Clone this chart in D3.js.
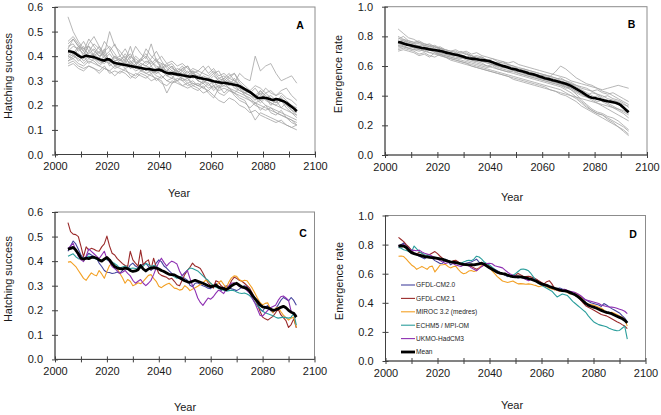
<!DOCTYPE html>
<html><head><meta charset="utf-8">
<script src="https://cdn.jsdelivr.net/npm/d3@7"></script>
<style>body{margin:0;background:#fff}svg{display:block;font-family:"Liberation Sans",Arial,sans-serif}</style>
</head><body><svg id="c" width="661" height="415"></svg>
<script>
const years = d3.range(2005, 2094);
const greyYears = d3.range(2005, 2094, 2);
const xTicks = d3.range(2000, 2101, 10);
const hatchTicks = [0, 0.1, 0.2, 0.3, 0.4, 0.5, 0.6];
const emergTicks = [0, 0.2, 0.4, 0.6, 0.8, 1.0];
const modelNames = ["GFDL-CM2.0", "GFDL-CM2.1", "MIROC 3.2 (medres)", "ECHM5 / MPI-OM", "UKMO-HadCM3"];
const meanName = "Mean";

// Panel A: all runs (grey) and mean
const hatchRuns = [
[.56,.50,.46,.43,.44,.42,.40,.41,.38,.37,.36,.37,.35,.36,.34,.35,.33,.34,.32,.30,.31,.30,.32,.31,.29,.28,.30,.29,.27,.28,.29,.27,.26,.25,.24,.22,.21,.20,.19,.18,.17,.16,.15,.14,.13],
[.46,.48,.45,.42,.47,.44,.41,.46,.43,.39,.40,.38,.44,.37,.39,.41,.38,.36,.35,.37,.35,.34,.33,.32,.34,.33,.31,.30,.32,.30,.29,.31,.33,.30,.28,.26,.24,.22,.23,.21,.20,.22,.19,.17,.16],
[.43,.47,.44,.40,.45,.48,.44,.41,.50,.44,.42,.39,.37,.40,.38,.43,.40,.38,.37,.36,.34,.33,.35,.36,.32,.30,.29,.31,.30,.29,.31,.33,.30,.28,.25,.24,.23,.25,.22,.21,.20,.19,.18,.17,.15],
[.40,.42,.41,.38,.40,.39,.37,.38,.39,.36,.37,.35,.36,.34,.35,.33,.34,.32,.31,.33,.32,.30,.31,.29,.30,.28,.29,.27,.28,.26,.27,.26,.25,.24,.23,.22,.20,.19,.18,.19,.17,.16,.15,.13,.12],
[.38,.39,.37,.36,.38,.37,.36,.35,.34,.36,.35,.34,.33,.32,.34,.33,.32,.31,.30,.25,.29,.30,.28,.29,.27,.26,.28,.25,.23,.27,.28,.27,.25,.23,.22,.18,.14,.17,.16,.15,.14,.13,.12,.11,.10],
[.37,.38,.36,.35,.36,.35,.34,.36,.33,.34,.33,.35,.32,.31,.33,.32,.30,.31,.29,.28,.30,.29,.28,.27,.28,.27,.25,.26,.24,.22,.21,.23,.22,.20,.19,.17,.18,.16,.15,.14,.13,.14,.12,.11,.12],
[.42,.44,.43,.46,.42,.45,.43,.40,.42,.45,.40,.43,.39,.44,.41,.39,.45,.38,.40,.37,.38,.36,.37,.35,.33,.34,.33,.32,.34,.31,.32,.30,.29,.33,.31,.30,.40,.34,.36,.37,.33,.30,.31,.32,.29],
[.39,.41,.38,.40,.37,.39,.38,.37,.39,.36,.37,.36,.38,.35,.37,.36,.35,.34,.37,.33,.34,.33,.32,.34,.31,.32,.31,.30,.29,.31,.30,.29,.28,.27,.26,.25,.24,.26,.23,.24,.22,.23,.21,.20,.19],
[.36,.37,.35,.34,.36,.35,.33,.35,.34,.32,.34,.33,.31,.33,.32,.31,.33,.30,.32,.30,.29,.31,.30,.28,.29,.28,.27,.26,.28,.25,.24,.26,.25,.27,.24,.23,.21,.22,.20,.19,.18,.17,.16,.15,.14],
[.44,.45,.42,.44,.40,.41,.44,.40,.38,.40,.37,.39,.41,.37,.38,.40,.36,.38,.35,.36,.37,.34,.36,.33,.35,.34,.36,.33,.35,.32,.33,.31,.30,.28,.27,.26,.28,.27,.25,.26,.24,.25,.23,.22,.20],
[.41,.40,.43,.41,.44,.40,.42,.39,.41,.38,.39,.37,.40,.38,.36,.38,.37,.39,.35,.34,.36,.33,.35,.32,.34,.30,.32,.31,.33,.30,.31,.29,.28,.26,.25,.24,.22,.26,.24,.22,.21,.23,.20,.18,.17],
[.45,.47,.44,.43,.41,.43,.40,.42,.44,.41,.38,.41,.38,.36,.39,.37,.39,.42,.38,.35,.33,.35,.34,.36,.33,.31,.34,.36,.33,.34,.30,.32,.33,.29,.27,.25,.23,.21,.23,.20,.22,.19,.21,.18,.16],
[.38,.40,.39,.37,.39,.38,.36,.38,.37,.35,.36,.38,.35,.37,.34,.35,.34,.33,.35,.32,.33,.32,.31,.30,.32,.30,.29,.31,.28,.29,.28,.30,.27,.26,.25,.26,.24,.22,.25,.23,.21,.24,.22,.20,.18],
[.43,.41,.44,.42,.39,.41,.39,.43,.37,.40,.38,.40,.36,.39,.37,.36,.38,.35,.36,.34,.36,.32,.34,.31,.33,.32,.30,.28,.30,.27,.29,.28,.31,.28,.26,.25,.27,.24,.27,.25,.24,.26,.27,.24,.22],
[.40,.39,.41,.39,.42,.40,.38,.40,.36,.38,.39,.36,.37,.35,.36,.34,.36,.33,.34,.32,.31,.34,.30,.31,.28,.29,.27,.29,.26,.28,.25,.27,.24,.22,.21,.19,.21,.18,.20,.17,.16,.18,.15,.14,.12]
];
const hatchMeanAll = [
.420,.419,.416,.410,.402,.396,.398,.402,.400,.398,
.396,.392,.388,.384,.382,.388,.386,.378,.372,.370,
.368,.366,.364,.362,.360,.358,.356,.354,.352,.350,
.348,.348,.346,.344,.344,.346,.342,.336,.332,.330,
.330,.328,.326,.325,.322,.320,.318,.316,.318,.316,
.312,.310,.308,.306,.304,.301,.298,.296,.294,.292,
.292,.290,.288,.286,.284,.282,.278,.272,.266,.260,
.254,.246,.238,.230,.230,.232,.230,.228,.224,.222,
.226,.224,.220,.216,.210,.202,.194,.186,.176];

// Panel B: all runs (grey) and mean
const emergRuns = [
[.85,.82,.79,.78,.76,.75,.74,.73,.72,.71,.70,.69,.67,.66,.65,.64,.63,.62,.61,.60,.59,.58,.57,.56,.55,.54,.53,.52,.51,.50,.49,.48,.47,.45,.43,.41,.39,.37,.35,.33,.31,.29,.27,.25,.23],
[.78,.80,.77,.76,.75,.74,.75,.73,.72,.70,.69,.68,.70,.68,.66,.67,.66,.64,.65,.63,.62,.61,.60,.58,.57,.56,.55,.54,.53,.52,.51,.52,.50,.48,.47,.45,.44,.43,.41,.40,.38,.37,.36,.34,.33],
[.76,.77,.75,.74,.73,.72,.71,.73,.71,.70,.68,.67,.66,.68,.67,.65,.66,.64,.63,.62,.63,.61,.60,.59,.58,.57,.56,.55,.54,.53,.52,.50,.49,.48,.46,.44,.42,.40,.38,.36,.34,.32,.30,.28,.25],
[.74,.75,.74,.72,.71,.73,.72,.70,.69,.68,.67,.68,.66,.65,.64,.63,.62,.60,.61,.59,.58,.57,.56,.55,.54,.53,.52,.51,.50,.49,.48,.47,.46,.44,.41,.37,.34,.31,.29,.28,.26,.25,.23,.20,.17],
[.72,.73,.72,.71,.70,.71,.69,.70,.68,.67,.66,.65,.66,.64,.63,.62,.61,.60,.59,.58,.57,.56,.55,.54,.53,.52,.51,.50,.49,.48,.47,.46,.44,.42,.39,.36,.33,.30,.28,.27,.24,.22,.19,.16,.13],
[.70,.71,.70,.69,.67,.68,.66,.69,.67,.66,.65,.64,.63,.62,.61,.60,.59,.58,.57,.56,.55,.54,.53,.52,.51,.50,.49,.48,.47,.46,.45,.44,.42,.40,.38,.35,.32,.30,.28,.27,.25,.23,.21,.19,.16],
[.80,.78,.77,.76,.77,.75,.74,.72,.73,.71,.70,.71,.69,.70,.68,.69,.67,.66,.65,.64,.63,.62,.63,.61,.60,.59,.58,.57,.56,.55,.54,.53,.52,.50,.49,.48,.47,.46,.45,.44,.45,.46,.47,.46,.45],
[.75,.76,.74,.73,.72,.71,.72,.70,.69,.68,.67,.66,.65,.66,.64,.63,.64,.62,.61,.60,.59,.60,.58,.57,.56,.55,.54,.53,.54,.53,.56,.60,.58,.55,.52,.50,.48,.47,.45,.43,.42,.40,.38,.36,.34],
[.73,.74,.72,.73,.71,.70,.71,.69,.68,.67,.66,.65,.64,.63,.62,.61,.60,.59,.60,.58,.57,.56,.57,.55,.54,.53,.52,.51,.50,.49,.48,.47,.45,.46,.44,.42,.40,.38,.36,.37,.35,.33,.31,.30,.28],
[.77,.76,.75,.74,.74,.73,.72,.71,.70,.69,.68,.69,.67,.66,.65,.66,.64,.63,.62,.61,.60,.59,.58,.57,.56,.55,.54,.52,.51,.50,.49,.48,.47,.45,.43,.41,.40,.42,.41,.39,.40,.38,.37,.35,.32],
[.71,.72,.71,.70,.68,.69,.67,.66,.68,.66,.64,.63,.62,.61,.60,.59,.58,.57,.56,.55,.54,.53,.52,.51,.50,.49,.48,.47,.46,.44,.43,.41,.40,.38,.36,.33,.31,.29,.27,.25,.23,.21,.19,.17,.14],
[.79,.77,.76,.75,.73,.74,.73,.71,.72,.70,.69,.68,.67,.66,.67,.65,.64,.63,.62,.61,.60,.59,.58,.57,.55,.54,.53,.52,.51,.50,.49,.48,.46,.44,.42,.40,.39,.38,.40,.38,.37,.36,.34,.32,.30],
[.74,.73,.72,.71,.72,.70,.69,.68,.67,.66,.65,.64,.63,.62,.60,.59,.58,.57,.56,.55,.54,.53,.51,.50,.49,.48,.47,.46,.45,.44,.43,.42,.41,.40,.39,.38,.37,.36,.35,.34,.33,.32,.31,.29,.27],
[.76,.78,.76,.75,.76,.74,.73,.74,.72,.71,.70,.70,.68,.69,.67,.66,.65,.64,.63,.62,.61,.60,.59,.58,.58,.57,.56,.55,.54,.53,.52,.51,.50,.49,.47,.46,.45,.43,.44,.42,.41,.42,.40,.38,.36]
];
const emergMeanAll = [
.762,.758,.752,.746,.742,.738,.734,.730,.726,.722,
.720,.716,.712,.710,.708,.705,.702,.698,.692,.688,
.684,.680,.676,.672,.668,.662,.656,.652,.650,.648,
.646,.642,.640,.638,.636,.632,.626,.618,.612,.606,
.600,.596,.590,.584,.580,.576,.570,.566,.562,.556,
.550,.546,.542,.536,.530,.524,.518,.514,.510,.504,
.500,.496,.490,.486,.480,.474,.466,.456,.446,.436,
.426,.414,.402,.392,.386,.384,.380,.376,.370,.366,
.362,.360,.356,.352,.346,.336,.320,.304,.288];

// Panel C: hatching success per model
const hatchGFDL20 = [
.440,.462,.482,.470,.448,.425,.410,.418,.432,.425,
.418,.412,.392,.378,.362,.355,.354,.350,.352,.356,
.350,.362,.372,.366,.384,.392,.380,.374,.380,.388,
.392,.378,.362,.372,.392,.405,.398,.380,.372,.360,
.350,.344,.336,.330,.334,.330,.322,.302,.296,.310,
.312,.305,.300,.296,.290,.288,.300,.310,.296,.280,
.290,.300,.292,.288,.284,.280,.286,.294,.300,.296,
.278,.268,.246,.228,.204,.196,.212,.220,.200,.190,
.205,.222,.240,.252,.246,.238,.252,.240,.220];
const hatchGFDL21 = [
.557,.520,.510,.508,.500,.460,.418,.458,.445,.452,
.448,.442,.440,.458,.470,.502,.462,.432,.425,.410,
.400,.390,.382,.378,.440,.405,.392,.380,.445,.384,
.398,.405,.365,.412,.375,.350,.342,.338,.334,.326,
.330,.318,.304,.300,.322,.345,.362,.375,.392,.380,
.376,.370,.352,.330,.312,.300,.290,.320,.315,.300,
.292,.280,.296,.320,.334,.330,.322,.318,.310,.300,
.290,.270,.250,.222,.196,.172,.165,.160,.168,.175,
.190,.205,.182,.170,.158,.130,.142,.165,.128];
const hatchMIROC = [
.396,.398,.388,.378,.362,.346,.330,.322,.338,.352,
.345,.340,.362,.348,.330,.358,.382,.392,.378,.370,
.350,.332,.310,.325,.318,.300,.305,.312,.308,.318,
.330,.342,.345,.330,.318,.298,.292,.300,.306,.310,
.300,.290,.288,.282,.285,.300,.292,.280,.286,.292,
.298,.305,.312,.322,.318,.310,.300,.296,.312,.320,
.305,.290,.315,.332,.340,.338,.325,.318,.322,.320,
.305,.290,.270,.250,.232,.222,.228,.230,.205,.190,
.208,.212,.195,.180,.170,.160,.168,.172,.130];
const hatchECHM5 = [
.420,.425,.430,.418,.410,.408,.412,.415,.420,.418,
.412,.408,.402,.405,.410,.406,.400,.396,.390,.382,
.372,.376,.380,.374,.370,.372,.370,.368,.372,.380,
.390,.386,.378,.382,.380,.370,.362,.356,.352,.348,
.342,.336,.330,.335,.340,.352,.362,.372,.370,.365,
.360,.350,.340,.330,.322,.310,.300,.294,.290,.286,
.282,.278,.280,.282,.280,.274,.270,.268,.270,.266,
.260,.248,.232,.218,.208,.196,.190,.186,.182,.178,
.172,.168,.170,.172,.170,.168,.172,.188,.140];
const hatchUKMO = [
.450,.462,.472,.445,.420,.405,.398,.420,.450,.440,
.430,.420,.410,.425,.440,.410,.398,.378,.370,.360,
.350,.355,.362,.350,.340,.322,.310,.318,.325,.310,
.300,.310,.322,.345,.372,.395,.412,.395,.380,.392,
.400,.395,.388,.360,.340,.352,.362,.330,.300,.280,
.250,.232,.220,.235,.250,.245,.255,.270,.282,.276,
.268,.285,.300,.310,.312,.305,.298,.292,.290,.280,
.270,.250,.230,.205,.180,.176,.188,.200,.210,.215,
.220,.240,.255,.258,.250,.240,.195,.185,.180];
const hatchMean = [
.449,.452,.456,.445,.430,.412,.408,.412,.410,.415,
.416,.412,.405,.400,.408,.415,.405,.390,.378,.372,
.370,.368,.372,.370,.362,.358,.360,.365,.382,.368,
.360,.368,.372,.374,.372,.368,.362,.358,.352,.346,
.345,.344,.338,.332,.326,.320,.316,.314,.318,.322,
.318,.314,.310,.305,.300,.296,.298,.302,.294,.290,
.288,.284,.290,.300,.306,.310,.302,.295,.292,.288,
.278,.262,.248,.236,.222,.214,.212,.210,.205,.200,
.202,.206,.212,.216,.210,.200,.192,.188,.172];

// Panel D: emergence rate per model
const emergGFDL20 = [
.790,.800,.812,.795,.780,.758,.740,.730,.720,.712,
.702,.715,.722,.705,.690,.680,.670,.672,.700,.688,
.662,.672,.682,.676,.670,.668,.672,.676,.680,.690,
.700,.680,.662,.664,.660,.650,.642,.630,.620,.610,
.600,.590,.580,.585,.590,.578,.570,.575,.580,.570,
.560,.565,.570,.560,.550,.535,.520,.518,.510,.500,
.490,.498,.502,.495,.490,.482,.470,.465,.460,.455,
.440,.430,.420,.410,.400,.395,.390,.385,.375,.395,
.385,.372,.360,.350,.340,.330,.312,.295,.270];
const emergGFDL21 = [
.850,.835,.820,.800,.782,.760,.740,.735,.748,.742,
.722,.728,.732,.742,.752,.738,.720,.705,.692,.688,
.680,.688,.692,.680,.662,.660,.662,.655,.650,.640,
.630,.640,.650,.660,.662,.650,.640,.622,.605,.600,
.598,.592,.590,.585,.580,.590,.602,.592,.582,.580,
.582,.578,.570,.562,.550,.540,.530,.545,.552,.530,
.500,.490,.480,.485,.492,.480,.470,.460,.450,.440,
.420,.400,.380,.370,.360,.350,.340,.330,.320,.315,
.310,.300,.290,.280,.270,.262,.250,.240,.222];
const emergMIROC = [
.720,.722,.718,.700,.680,.660,.648,.630,.640,.650,
.640,.630,.648,.652,.612,.635,.660,.662,.665,.650,
.640,.648,.652,.630,.610,.600,.605,.618,.622,.615,
.620,.640,.660,.665,.660,.640,.620,.600,.580,.565,
.550,.545,.540,.545,.550,.540,.530,.532,.530,.528,
.530,.528,.522,.518,.510,.515,.520,.510,.500,.495,
.490,.485,.480,.482,.480,.470,.460,.465,.470,.460,
.440,.420,.400,.392,.388,.384,.378,.370,.362,.350,
.330,.332,.335,.328,.320,.310,.300,.285,.240];
const emergECHM5 = [
.780,.775,.765,.760,.752,.750,.790,.770,.752,.740,
.730,.725,.720,.715,.712,.710,.705,.700,.695,.690,
.680,.675,.670,.668,.672,.680,.688,.692,.690,.700,
.720,.715,.700,.680,.668,.660,.645,.630,.615,.605,
.600,.592,.585,.580,.590,.600,.615,.630,.632,.628,
.620,.600,.575,.550,.530,.520,.510,.500,.490,.480,
.460,.440,.450,.460,.455,.450,.430,.410,.395,.380,
.365,.350,.335,.310,.290,.270,.260,.250,.245,.240,
.235,.225,.218,.212,.208,.210,.225,.240,.150];
const emergUKMO = [
.790,.795,.800,.785,.770,.762,.760,.758,.762,.750,
.740,.735,.730,.720,.710,.700,.690,.680,.670,.675,
.680,.670,.660,.655,.650,.660,.670,.655,.640,.630,
.620,.635,.650,.665,.670,.672,.668,.655,.650,.645,
.640,.625,.610,.598,.590,.585,.580,.575,.568,.560,
.552,.560,.558,.550,.540,.525,.520,.515,.510,.505,
.495,.488,.482,.490,.492,.485,.480,.475,.470,.460,
.450,.435,.420,.415,.410,.405,.400,.395,.385,.380,
.375,.372,.370,.368,.362,.356,.350,.342,.325];
const emergMean = [
.790,.792,.790,.780,.760,.745,.738,.732,.728,.722,
.718,.716,.712,.710,.708,.705,.702,.698,.692,.686,
.682,.680,.676,.672,.668,.664,.662,.660,.662,.660,
.664,.668,.672,.665,.652,.640,.630,.620,.610,.604,
.600,.598,.590,.584,.580,.578,.580,.578,.575,.572,
.566,.562,.555,.548,.538,.530,.525,.520,.512,.506,
.500,.494,.488,.484,.482,.478,.470,.462,.455,.442,
.428,.412,.396,.384,.376,.370,.364,.356,.348,.340,
.334,.330,.325,.316,.308,.300,.292,.280,.262];

const modelColors = ["#46449e", "#9a2a2a", "#f3a024", "#2b9e9c", "#8e30b2"];

const svg = d3.select("#c");
const FONT = '"Liberation Sans", Arial, sans-serif';

function panel(o) {
  const x = d3.scaleLinear().domain([2000, 2100]).range([o.l, o.r]);
  const y = d3.scaleLinear().domain([0, o.ymax]).range([o.b, o.t]);
  const g = svg.append("g");
  g.append("rect").attr("x", o.l).attr("y", o.t).attr("width", o.r - o.l).attr("height", o.b - o.t)
    .attr("fill", "none").attr("stroke", "#8c8c8c").attr("stroke-width", 1);

  const line = d3.line().x(d => x(d[0])).y(d => y(d[1]));
  o.series.forEach(s => {
    g.append("path").datum(s.yrs.map((yr, i) => [yr, s.v[i]]))
      .attr("d", line).attr("fill", "none").attr("stroke", s.c)
      .attr("stroke-width", s.w).attr("stroke-linejoin", "round");
  });

  const xa = d3.axisBottom(x).tickValues(xTicks).tickSizeInner(6).tickSizeOuter(0).tickPadding(5)
    .tickFormat(d => d % 20 === 0 ? d : "");
  const gx = g.append("g").attr("transform", `translate(0,${o.b - 3})`).call(xa);
  const ya = d3.axisLeft(y).tickValues(o.ticks).tickSizeInner(6).tickSizeOuter(0).tickPadding(9)
    .tickFormat(d3.format(".1f"));
  const gy = g.append("g").attr("transform", `translate(${o.l + 3},0)`).call(ya);
  [gx, gy].forEach(a => {
    a.select(".domain").remove();
    a.selectAll("line").attr("stroke", "#404040");
    a.selectAll("text").attr("font-size", 11).attr("font-family", FONT).attr("fill", "#1a1a1a");
  });
  g.append("line").attr("x1", o.l).attr("x2", o.l).attr("y1", o.t).attr("y2", o.b).attr("stroke", "#404040");
  g.append("line").attr("x1", o.l).attr("x2", o.r).attr("y1", o.b).attr("y2", o.b).attr("stroke", "#404040");

  g.append("text").attr("transform", `translate(${o.ylx},${o.yly}) rotate(-90)`)
    .attr("text-anchor", "middle").attr("dy", "0.35em").attr("font-size", 11).attr("font-family", FONT)
    .attr("fill", "#1a1a1a").text(o.ylabel);
  g.append("text").attr("x", o.xlx).attr("y", o.xly).attr("dy", "0.35em").attr("text-anchor", "middle")
    .attr("font-size", 11).attr("font-family", FONT).attr("fill", "#1a1a1a").text("Year");
  g.append("text").attr("x", o.lx).attr("y", o.ly).attr("dy", "0.35em").attr("text-anchor", "middle")
    .attr("font-size", 10.5).attr("font-weight", "bold").attr("font-family", FONT).attr("fill", "#000").text(o.letter);
  return g;
}

const greyC = "#a3a3a3";
panel({l:55, r:315, t:7, b:154.5, ymax:0.6, ticks:hatchTicks, ylabel:"Hatching success",
  ylx:8.5, yly:76, xlx:179, xly:193, lx:300, ly:25, letter:"A",
  series: hatchRuns.map(v => ({yrs:greyYears, v, c:greyC, w:0.8}))
    .concat([{yrs:years, v:hatchMeanAll, c:"#000", w:2.6}])});
panel({l:385, r:647, t:6.7, b:155, ymax:1.0, ticks:emergTicks, ylabel:"Emergence rate",
  ylx:338.5, yly:74, xlx:512, xly:197, lx:631.5, ly:24.5, letter:"B",
  series: emergRuns.map(v => ({yrs:greyYears, v, c:greyC, w:0.8}))
    .concat([{yrs:years, v:emergMeanAll, c:"#000", w:2.6}])});

const hatchModels = [hatchGFDL20, hatchGFDL21, hatchMIROC, hatchECHM5, hatchUKMO];
const emergModels = [emergGFDL20, emergGFDL21, emergMIROC, emergECHM5, emergUKMO];
panel({l:55, r:314.5, t:212, b:359.4, ymax:0.6, ticks:hatchTicks, ylabel:"Hatching success",
  ylx:8.5, yly:279, xlx:185, xly:407, lx:303, ly:233.5, letter:"C",
  series: hatchModels.map((v, i) => ({yrs:years, v, c:modelColors[i], w:1.1}))
    .concat([{yrs:years, v:hatchMean, c:"#000", w:2.8}])});
panel({l:385.5, r:645.5, t:215.5, b:361, ymax:1.0, ticks:emergTicks, ylabel:"Emergence rate",
  ylx:339.5, yly:281, xlx:512, xly:405, lx:633, ly:234.5, letter:"D",
  series: emergModels.map((v, i) => ({yrs:years, v, c:modelColors[i], w:1.1}))
    .concat([{yrs:years, v:emergMean, c:"#000", w:2.8}])});

// legend in panel D
const leg = svg.append("g").attr("transform", "translate(401,285)");
const legItems = modelNames.map((n, i) => ({n, c:modelColors[i], w:1.1})).concat([{n:meanName, c:"#000", w:2.8}]);
legItems.forEach((it, i) => {
  const yy = i * 13.4;
  leg.append("line").attr("x1", 0).attr("x2", 14).attr("y1", yy).attr("y2", yy)
    .attr("stroke", it.c).attr("stroke-width", it.w);
  leg.append("text").attr("x", 15).attr("y", yy).attr("dy", "0.35em").attr("font-size", 6.6)
    .attr("font-family", FONT).attr("fill", "#222").text(it.n);
});
</script></body></html>
